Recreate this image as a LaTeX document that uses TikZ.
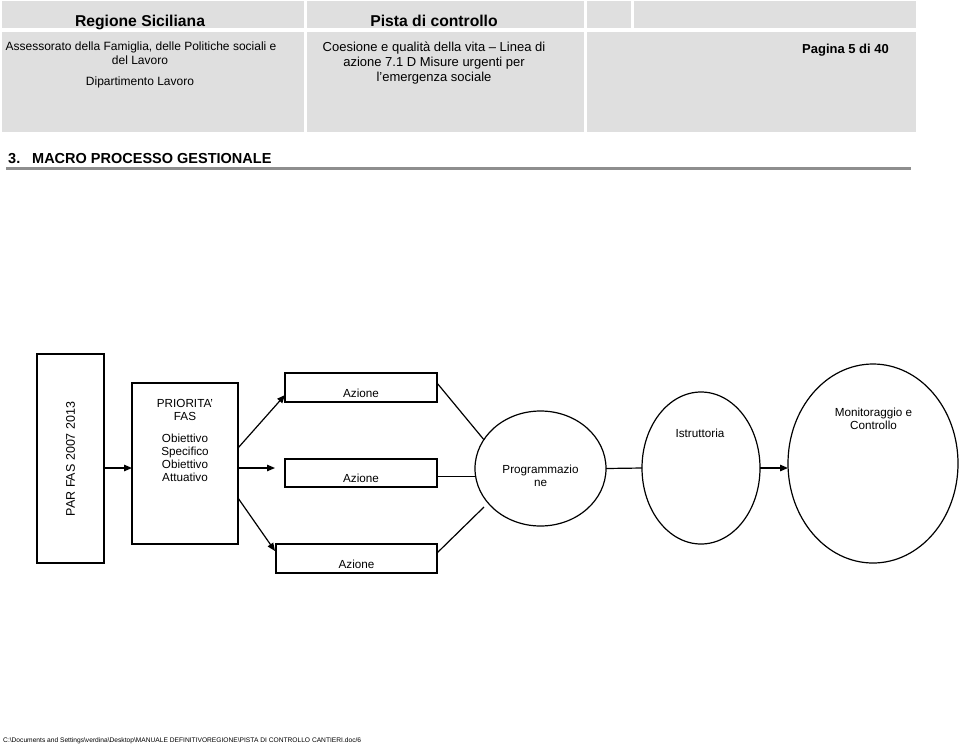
\documentclass[tikz,border=0pt]{standalone}
\usepackage{fontspec}
\setmainfont{Liberation Sans}
\usetikzlibrary{arrows.meta,calc,shapes.geometric}
\definecolor{cellgray}{HTML}{DFDFDF}
\definecolor{rulegray}{HTML}{8E8E8E}
\tikzset{
  cell/.style={fill=cellgray,draw=none},
  htitle/.style={font=\fontsize{15.7}{18}\selectfont\bfseries,anchor=base,inner sep=0pt},
  htext/.style={font=\fontsize{12}{13.5}\selectfont,anchor=base,inner sep=0pt},
  htextb/.style={font=\fontsize{13}{15}\selectfont,anchor=base,inner sep=0pt},
  dtext/.style={font=\fontsize{11.7}{13}\selectfont,align=center,inner sep=0pt},
  box/.style={draw,line width=1.2pt,rectangle,inner sep=0pt,outer sep=0pt},
  oval/.style={draw,line width=1.2pt,ellipse,inner sep=0pt,outer sep=0pt},
  conn/.style={line width=1.2pt},
  arr/.style={line width=1.2pt,-{Triangle[length=8pt,width=6.5pt]}},
}
\begin{document}
\begin{tikzpicture}[x=1pt,y=-1pt]
\useasboundingbox (0,0) rectangle (960,745);
% header cells
\fill[cell] (2,1) rectangle (304,28);
\fill[cell] (307,1) rectangle (584,28);
\fill[cell] (587,1) rectangle (631,28);
\fill[cell] (634,1) rectangle (916,28);
\fill[cell] (2,32) rectangle (304,132);
\fill[cell] (307,32) rectangle (584,132);
\fill[cell] (587,32) rectangle (916,132);
% header texts
\node[htitle] (h1) at (140,26) {Regione Siciliana};
\node[htitle] (h2) at (434,26) {Pista di controllo};
\node[htext] (h3) at (141,50.7) {Assessorato della Famiglia, delle Politiche sociali e};
\node[htext] (h4) at (140,64) {del Lavoro};
\node[htext] (h5) at (140,85.7) {Dipartimento Lavoro};
\node[htextb] (h6) at (434,51.7) {Coesione e qualità della vita – Linea di};
\node[htextb] (h7) at (434,66.7) {azione 7.1 D Misure urgenti per};
\node[htextb] (h8) at (434,81.7) {l’emergenza sociale};
\node[htextb,font=\fontsize{13}{15}\selectfont\bfseries] (h9) at (845.5,53) {Pagina 5 di 40};
% section title
\node[anchor=base west,inner sep=0pt,font=\fontsize{14.5}{17}\selectfont\bfseries] (t1) at (8,163) {3.};
\node[anchor=base west,inner sep=0pt,font=\fontsize{14.5}{17}\selectfont\bfseries] (t2) at (32,163) {MACRO PROCESSO GESTIONALE};
\draw[rulegray,line width=3pt] (6,168) -- (911,168);
% diagram nodes
\node[box,minimum width=67pt,minimum height=209pt] (par) at (70.5,458.5) {};
\node[dtext,rotate=90,font=\fontsize{12.5}{14}\selectfont] (partxt) at (70.5,459) {PAR FAS 2007 2013};
\node[box,minimum width=106pt,minimum height=161pt] (pr) at (185,463.5) {};
\node[dtext] (prtxt) at (185,440.5) {PRIORITA’\\FAS\\[9pt]Obiettivo\\Specifico\\Obiettivo\\Attuativo};
\node[box,minimum width=152pt,minimum height=29pt] (a1) at (361,387.5) {};
\node[dtext] (a1t) at (361,393) {Azione};
\node[box,minimum width=152pt,minimum height=28pt] (a2) at (361,473) {};
\node[dtext] (a2t) at (361,478.5) {Azione};
\node[box,minimum width=161pt,minimum height=29pt] (a3) at (356.5,558.5) {};
\node[dtext] (a3t) at (356.5,564) {Azione};
\node[oval,minimum width=131pt,minimum height=115pt] (pg) at (540.5,468.5) {};
\node[dtext] (pgt) at (540.5,475.5) {Programmazio\\ne};
\node[oval,minimum width=118pt,minimum height=152pt] (is) at (701,468) {};
\node[dtext] (ist) at (700,433) {Istruttoria};
\node[oval,minimum width=170pt,minimum height=199pt] (mc) at (873,463.5) {};
\node[dtext] (mct) at (873.5,419) {Monitoraggio e\\Controllo};
% connectors
\draw[arr] ($(par.east)+(0,9.5)$) -- ($(pr.west)+(0,4.5)$);
\draw[arr] ($(pr.east)+(0,-15.5)$) -- ($(a1.west)+(0,7.5)$);
\draw[arr] ($(pr.east)+(0,4.5)$) -- ($(a2.west)+(-10,-5)$);
\draw[arr] ($(pr.east)+(0,34.5)$) -- ($(a3.west)+(-1,-7.5)$);
\coordinate (e3) at (484,507);
\draw[conn] ($(a1.east)+(0,-4.5)$) -- (pg.153);
\draw[conn] (pg.187.5 -| a2.east) -- (pg.187.5);
\draw[conn] ($(a3.east)+(0,-5.5)$) -- (e3);
\draw[conn] (pg.east) -- (is.west);
\draw[arr] (is.east) -- (is.east -| mc.west);
% footer
\node[anchor=base west,inner sep=0pt,font=\fontsize{6.65}{8}\selectfont] (ft) at (3,742) {C:\textbackslash Documents and Settings\textbackslash verdina\textbackslash Desktop\textbackslash MANUALE DEFINITIVOREGIONE\textbackslash PISTA DI CONTROLLO CANTIERI.doc/6};
\end{tikzpicture}
\end{document}
